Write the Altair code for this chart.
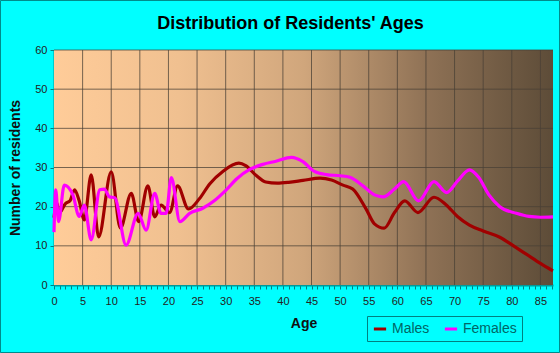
import altair as alt
import pandas as pd

# ---- data ----
male_age = [0, 0.5, 0.9, 2, 2.8, 3.6, 4.4, 5.3, 6.5, 7.8, 10, 11.6, 13.5, 14.8, 16.4, 17.6, 18.7,
            20.2, 21.6, 23.5, 25.4, 27.2, 29.5, 32.3, 33.5, 35.3, 37, 39, 41, 43.5, 46.5, 48.5,
            50.5, 52.2, 54.5, 56, 57.7, 59.5, 61.3, 63.6, 66.4, 68.5, 70.5, 72.6, 75, 77.9, 80.5,
            82.6, 85, 87.2]
male_val = [17.2, 21, 18.3, 20.8, 21.5, 24.3, 21.5, 16.6, 28.1, 12.3, 28.9, 14.5, 23.4, 16.2, 25.3,
            17.4, 20.4, 18.5, 25.3, 19.4, 22, 25.8, 29, 31.1, 30.5, 28, 26.3, 26, 26.2, 26.7, 27.3,
            26.8, 25.5, 24.5, 19.5, 15.6, 14.5, 18.5, 21.5, 18.5, 22.4, 20.5, 17.5, 15.3, 13.8, 12.2,
            9.8, 7.8, 5.5, 3.6]

female_age = [0, 0.3, 0.8, 1.8, 3.3, 4.4, 5.3, 6.5, 8, 8.8, 9.7, 10.6, 12.6, 14.7, 16.1, 17.6, 18.7,
              19.6, 20.5, 22, 23.7, 26, 28, 30.1, 32, 34.2, 36.5, 38.8, 41.5, 43.5, 45.5, 47.6, 50,
              51.7, 54, 56, 57.5, 59.5, 61.1, 63.7, 66.4, 68.6, 70.5, 72.6, 74.2, 76, 77.9, 80.8,
              83, 85, 87.2]
female_val = [13.5, 24.3, 16.2, 25.5, 23, 17.5, 20.4, 11.5, 24.3, 24.5, 22.5, 22.3, 10.2, 18.3, 14,
              23.4, 18.3, 18.3, 27.4, 16.2, 18.3, 19.6, 21.5, 24.3, 27.2, 29.5, 30.8, 31.6, 32.6,
              31.5, 29, 28.2, 27.9, 27.5, 25.3, 23, 22.5, 24.5, 26.4, 21.5, 26.4, 23.6, 26.5, 29.4,
              27.5, 23, 20, 18.3, 17.5, 17.3, 17.4]

series_names = ["Males", "Females"]
series_colors = ["#A00000", "#FF00FF"]

x_grid = list(range(5, 90, 5))
y_grid = list(range(10, 70, 10))
x_ticks = list(range(0, 88))
y_ticks = list(range(0, 70, 10))

W, H = 499, 235
X_MAX = 87.2

df = pd.concat([
    pd.DataFrame({"age": male_age, "n": male_val, "sex": "Males"}),
    pd.DataFrame({"age": female_age, "n": female_val, "sex": "Females"}),
])

xs = alt.Scale(domain=[0, X_MAX], nice=False, zero=False)
ys = alt.Scale(domain=[0, 60], nice=False)

x_axis = alt.Axis(values=x_ticks, labelExpr="datum.value % 5 === 0 ? datum.label : ''",
                  grid=False, tickSize=4, labelPadding=6, titlePadding=10,
                  labelFlush=False, labelOverlap=False)
y_axis = alt.Axis(values=y_ticks, grid=False, tickSize=4, labelPadding=3, titlePadding=12)

bg = alt.Chart(pd.DataFrame({"a": [0]})).mark_rect(
    color=alt.LinearGradient(
        gradient="linear", x1=0, x2=1, y1=0, y2=0,
        stops=[
            alt.GradientStop(color="#FFCC99", offset=0),
            alt.GradientStop(color="#F0C090", offset=0.25),
            alt.GradientStop(color="#D0A67C", offset=0.5),
            alt.GradientStop(color="#8E7155", offset=0.75),
            alt.GradientStop(color="#5D4C38", offset=1),
        ],
    )
).encode(x=alt.value(0), x2=alt.value(W), y=alt.value(0), y2=alt.value(H))

vgrid = alt.Chart(pd.DataFrame({"age": x_grid})).mark_rule(
    color="#4a4036", strokeWidth=1, opacity=0.75
).encode(x=alt.X("age:Q", scale=xs, title="Age", axis=x_axis))

hgrid = alt.Chart(pd.DataFrame({"n": y_grid})).mark_rule(
    color="#4a4036", strokeWidth=1, opacity=0.75
).encode(y=alt.Y("n:Q", scale=ys, title="Number of residents", axis=y_axis))

lines = alt.Chart(df).mark_line(interpolate="monotone", strokeWidth=3.2).encode(
    x=alt.X("age:Q", scale=xs, title="Age", axis=x_axis),
    y=alt.Y("n:Q", scale=ys, title="Number of residents", axis=y_axis),
    color=alt.Color("sex:N", scale=alt.Scale(domain=series_names, range=series_colors),
                    sort=series_names,
                    legend=alt.Legend(title=None, orient="none", legendX=313, legendY=266,
                                      direction="horizontal", symbolType="stroke",
                                      symbolSize=150, symbolStrokeWidth=3,
                                      labelFontSize=14, labelColor="#006666",
                                      labelFont="Liberation Sans", columnPadding=8,
                                      padding=5, strokeColor="#008080",
                                      fillColor="#00FFFF")),
)

frame = alt.Chart(pd.DataFrame({"a": [0]})).mark_rect(
    fill="transparent", stroke="#008B8B", strokeWidth=1
).encode(x=alt.value(-53.5), x2=alt.value(560 - 54 - 0.5),
         y=alt.value(-49.5), y2=alt.value(353 - 50 - 0.5))

chart = alt.layer(bg, vgrid, hgrid, lines, frame).properties(
    width=W, height=H,
    autosize=alt.AutoSizeParams(type="none"),
    padding={"left": 54, "top": 50, "right": 7, "bottom": 68},
    background="#00FFFF",
    title=alt.Title("Distribution of Residents' Ages", fontSize=18, fontWeight="bold",
                    font="Liberation Sans", color="#000000", anchor="middle",
                    dx=-13, dy=53, offset=20),
).configure_view(stroke=None).configure_axis(
    domainColor="#009999", domainWidth=2, tickColor="#008080",
    labelFont="Liberation Sans", labelFontSize=11, labelColor="#222222",
    titleFont="Liberation Sans", titleFontSize=14, titleFontWeight="bold", titleColor="#111111",
)

chart.save("out.html", embed_options={"renderer": "svg", "actions": False})
